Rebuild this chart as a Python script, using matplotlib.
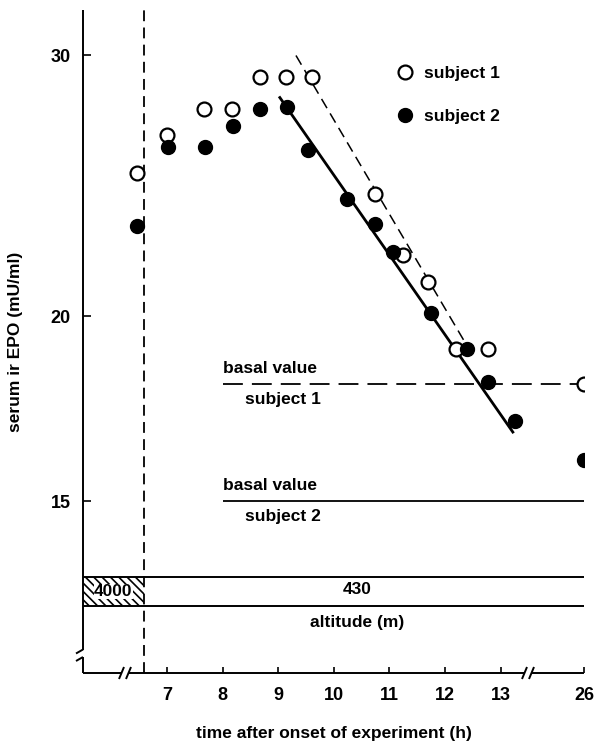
import matplotlib
matplotlib.use('Agg')
import matplotlib.pyplot as plt
from matplotlib.patches import Rectangle
from matplotlib.ticker import NullLocator, FixedLocator, FixedFormatter

plt.rcParams['font.family'] = ['Liberation Sans', 'DejaVu Sans']
plt.rcParams['hatch.linewidth'] = 1.2

# serum ir EPO (mU/ml), time in hours
t1 = [6.47, 7.0, 7.67, 8.17, 8.67, 9.14, 9.61, 10.74, 11.24, 11.69, 12.2, 12.77, 26]
epo1 = [25.0, 26.5, 27.6, 27.6, 29.0, 29.0, 29.0, 24.2, 22.0, 21.1, 19.0, 19.0, 18.0]
t2 = [6.47, 7.02, 7.68, 8.18, 8.67, 9.16, 9.54, 10.23, 10.74, 11.07, 11.74, 12.39, 12.77, 13.26, 26]
epo2 = [23.0, 26.0, 26.0, 26.9, 27.6, 27.7, 25.9, 24.0, 23.1, 22.1, 20.1, 19.0, 18.05, 17.0, 16.0]

# regression lines (start, end)
fit1_t, fit1_v = [9.32, 12.36], [30.0, 19.2]
fit2_t, fit2_v = [9.03, 13.22], [28.1, 16.7]

basal1, basal2 = 18.0, 15.0
basal_start = 8.0
t_switch = 6.58          # end of 4000 m exposure

xticks = [7, 8, 9, 10, 11, 12, 13, 26]
yticks = [15, 20, 30]


def xpos(h):
    # broken time axis: 26 h sits 1.5 units after 13 h
    return h if h <= 13.5 else 14.5 + (h - 26)


fig = plt.figure(figsize=(5.97, 7.44), dpi=100)
ax = fig.add_axes([83 / 597, 71 / 744, 501 / 597, 663 / 744])
ax.set_yscale('log')
ax.set_xlim(5.49, 14.5)
ax.set_ylim(11.48, 32.2)
for s in ax.spines.values():
    s.set_visible(False)

ax.xaxis.set_major_locator(FixedLocator([xpos(h) for h in xticks]))
ax.xaxis.set_major_formatter(FixedFormatter([str(h) for h in xticks]))
ax.xaxis.set_minor_locator(NullLocator())
ax.yaxis.set_major_locator(FixedLocator(yticks))
ax.yaxis.set_major_formatter(FixedFormatter([str(v) for v in yticks]))
ax.yaxis.set_minor_locator(NullLocator())
ax.tick_params(axis='x', direction='in', length=4, width=1.2, pad=10, labelsize=13)
ax.tick_params(axis='y', direction='in', length=6, width=1.2, pad=9, labelsize=13)
for lab in ax.get_xticklabels() + ax.get_yticklabels():
    lab.set_fontweight('bold')

# hand drawn frame with breaks (axes fraction coords)
tr = ax.transAxes
fx = lambda px: (px - 83) / 501
fy = lambda py: (673 - py) / 663
kw = dict(transform=tr, color='black', lw=1.4, clip_on=False, solid_capstyle='butt')
ax.plot([0, 0], [1, fy(650)], **kw)
ax.plot([fx(76), fx(83)], [fy(653.5), fy(649.5)], **kw)
ax.plot([fx(76), fx(83)], [fy(661), fy(657)], **kw)
ax.plot([0, 0], [fy(657), 0], **kw)
ax.plot([0, fx(121)], [0, 0], **kw)
ax.plot([fx(119), fx(124)], [fy(679), fy(667)], **kw)
ax.plot([fx(126), fx(131)], [fy(679), fy(667)], **kw)
ax.plot([fx(129), fx(524)], [0, 0], **kw)
ax.plot([fx(522), fx(527)], [fy(679), fy(667)], **kw)
ax.plot([fx(529), fx(534)], [fy(679), fy(667)], **kw)
ax.plot([fx(532), 1], [0, 0], **kw)

# altitude band
band_lo, band_hi = fy(606), fy(577)
ax.plot([0, 1], [band_hi, band_hi], **kw)
ax.plot([0, 1], [band_lo, band_lo], **kw)
xs = ax.transLimits.transform((t_switch, 20))[0]
ax.add_patch(Rectangle((0, band_lo), xs, band_hi - band_lo, transform=tr,
                       facecolor='white', edgecolor='black', lw=0, hatch='\\\\\\\\', clip_on=False))
ax.text(xs / 2, (band_lo + band_hi) / 2, '4000', transform=tr, ha='center', va='center',
        fontsize=12.5, fontweight='bold',
        bbox=dict(facecolor='white', edgecolor='none', pad=0.1))
ax.text(fx(357), fy(590), '430', transform=tr, ha='center', va='center', fontsize=12.5, fontweight='bold')
ax.text(fx(357), fy(622), 'altitude (m)', transform=tr, ha='center', va='center', fontsize=12.5, fontweight='bold')

# end of hypoxia
ax.axvline(t_switch, color='black', lw=1.3, dashes=(6, 3.5))

# basal values
ax.hlines(basal1, basal_start, xpos(26), color='black', lw=1.3, linestyles=(0, (11, 5)))
ax.hlines(basal2, basal_start, xpos(26), color='black', lw=1.3)
ax.text(basal_start, basal1 * 1.012, 'basal value', ha='left', va='bottom', fontsize=12.5, fontweight='bold')
ax.text(8.4, basal1 / 1.012, 'subject 1', ha='left', va='top', fontsize=12.5, fontweight='bold')
ax.text(basal_start, basal2 * 1.012, 'basal value', ha='left', va='bottom', fontsize=12.5, fontweight='bold')
ax.text(8.4, basal2 / 1.012, 'subject 2', ha='left', va='top', fontsize=12.5, fontweight='bold')

# regressions
ax.plot(fit1_t, fit1_v, color='black', lw=1.1, dashes=(7, 4))
ax.plot(fit2_t, fit2_v, color='black', lw=2.0)

# data
h1, = ax.plot([xpos(h) for h in t1], epo1, 'o', ms=10, mfc='white', mec='black', mew=1.6,
              ls='none', zorder=5, label='subject 1')
h2, = ax.plot([xpos(h) for h in t2], epo2, 'o', ms=10, mfc='black', mec='black', mew=1.0,
              ls='none', zorder=6, label='subject 2')
ax.legend(handles=[h1, h2], loc='upper left', bbox_to_anchor=(fx(398), fy(66)),
          frameon=False, handlelength=0.8, handletextpad=0.7, labelspacing=1.6,
          borderpad=0, borderaxespad=0, prop=dict(size=12.5, weight='bold'))

ax.set_xlabel('time after onset of experiment (h)', fontsize=12.5, fontweight='bold', labelpad=16)
ax.set_ylabel('serum ir EPO (mU/ml)', fontsize=12.5, fontweight='bold', labelpad=20)

fig.savefig('out.png', dpi=100)
